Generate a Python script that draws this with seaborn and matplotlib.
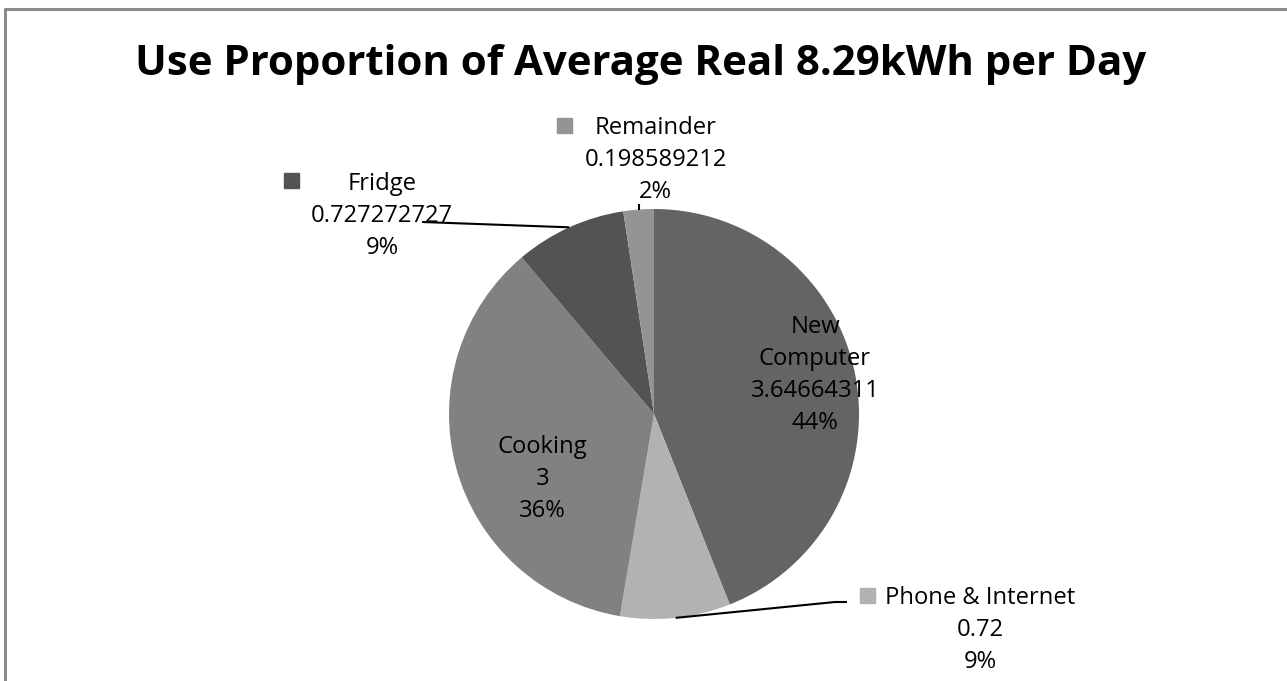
import numpy as np
import matplotlib
matplotlib.use("Agg")
import matplotlib.pyplot as plt
from matplotlib.lines import Line2D
import seaborn as sns

# ---- data ----
categories = ["New Computer", "Phone & Internet", "Cooking", "Fridge", "Remainder"]
values = [3.64664311, 0.72, 3, 0.727272727, 0.198589212]
title = "Use Proportion of Average Real 8.29kWh per Day"

colors = ["#646464", "#b2b2b2", "#818181", "#535353", "#949494"]

sns.set_theme(style="white")
FONT = "Open Sans"
plt.rcParams["font.family"] = [FONT, "DejaVu Sans"]

W, H = 1287, 681
fig = plt.figure(figsize=(W / 100, H / 100), dpi=100)
fig.patch.set_facecolor("white")
renderer = fig.canvas.get_renderer()

# pie geometry (pixels)
CX, CY, R = 654, 414, 205
ax = fig.add_axes([(CX - R) / W, (H - CY - R) / H, 2 * R / W, 2 * R / H])

pal = sns.color_palette(colors)
wedges, _ = ax.pie(values, colors=pal, startangle=90, counterclock=False,
                   radius=1.0, wedgeprops=dict(linewidth=0))
ax.set_xlim(-1, 1)
ax.set_ylim(-1, 1)
ax.axis("off")


def fpx(x, y):
    return x / W, 1 - y / H


def dpx(x, y):
    return (x - CX) / R, (CY - y) / R


def fit_size(text, target_w, weight="normal", base=20):
    t = fig.text(0, 0, text, fontsize=base, fontweight=weight)
    w = t.get_window_extent(renderer).width
    t.remove()
    return base * target_w / w


# title
tsize = fit_size(title, 1013, weight="bold")
fig.text(*fpx(641, 75), title, fontsize=tsize, fontweight="bold",
         ha="center", va="baseline", color="black")

# label font size fitted to a reference string width
lsize = fit_size("0.198589212", 142)

total = sum(values)


def label_lines(name, v):
    nm = name.split(" ") if name == "New Computer" else [name]
    return nm + ["{:.9g}".format(v), "{:.0f}%".format(100 * v / total)]


# label layout: (center x, first baseline y, marker center or None)
layout = {
    "New Computer": (815, 333, None),
    "Phone & Internet": (980, 604, (866.5, 595)),
    "Cooking": (542.5, 453, None),
    "Fridge": (382, 190, (291, 180.5)),
    "Remainder": (655.5, 134, (564, 125)),
}
LS = 32
for name, v in zip(categories, values):
    cx, by, mk = layout[name]
    for i, line in enumerate(label_lines(name, v)):
        fig.text(*fpx(cx, by + i * LS), line, fontsize=lsize, ha="center",
                 va="baseline", color="black")
    if mk is not None:
        ci = categories.index(name)
        fig.add_artist(Line2D([mk[0] / W], [1 - mk[1] / H], marker="s",
                              markersize=15 * 0.72, color=pal[ci],
                              linestyle="none", transform=fig.transFigure))


# leader lines from wedge mid-edge
def mid_edge(w):
    th = np.deg2rad((w.theta1 + w.theta2) / 2)
    return np.cos(th) * w.r, np.sin(th) * w.r


leaders = {
    "Fridge": [(422, 222)],
    "Remainder": [None],
    "Phone & Internet": [(835, 602), (847, 602)],
}
for name, pts in leaders.items():
    w = wedges[categories.index(name)]
    ex, ey = mid_edge(w)
    xs, ys = [ex], [ey]
    for p in pts:
        if p is None:
            xs.append(ex)
            ys.append(dpx(0, 204)[1])
        else:
            px, py = dpx(*p)
            xs.append(px)
            ys.append(py)
    ax.plot(xs, ys, color="black", lw=1.5, clip_on=False, solid_capstyle="butt")

# outer chart frame (top and left edges visible)
fig.add_artist(Line2D([5 / W, 1], [1 - 8.5 / H, 1 - 8.5 / H], color="#8a8a8a",
                      lw=2.2, transform=fig.transFigure))
fig.add_artist(Line2D([5 / W, 5 / W], [0, 1 - 8.5 / H], color="#8a8a8a",
                      lw=2.2, transform=fig.transFigure))

fig.savefig("out.png", dpi=100, facecolor="white")
